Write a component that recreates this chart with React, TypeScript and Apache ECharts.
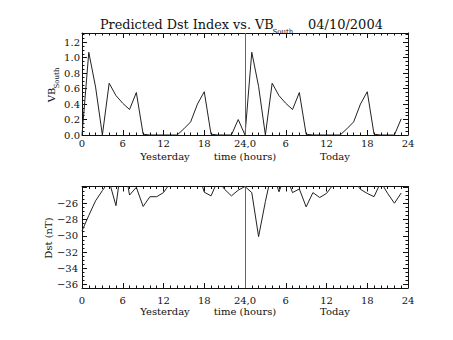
import React, { useEffect, useRef } from 'react';
import * as echarts from 'echarts';

const hours = [
  0, 1, 2, 3, 4, 5, 6, 7, 8, 9, 10, 11, 12, 13, 14, 15, 16, 17, 18, 19, 20, 21, 22, 23,
  24, 25, 26, 27, 28, 29, 30, 31, 32, 33, 34, 35, 36, 37, 38, 39, 40, 41, 42, 43, 44, 45, 46, 47,
];

const vbSouth = [
  0, 1.07, 0.62, 0, 0.67, 0.51, 0.41, 0.33, 0.55, 0.01, 0, 0, 0, 0, 0, 0.08, 0.17, 0.4, 0.56, 0.01, 0, 0, 0, 0.2,
  0, 1.07, 0.63, 0, 0.67, 0.51, 0.41, 0.33, 0.55, 0.01, 0, 0, 0, 0, 0, 0.08, 0.17, 0.4, 0.56, 0.01, 0, 0, 0, 0.21,
];

const dst = [
  -29.4, -27.5, -25.7, -24.45, -23.3, -26.3, -20.2, -25.0, -24.05, -26.4, -25.2, -25.2, -24.7, -23.5, -22.8, -22.8,
  -23.0, -22.0, -24.65, -25.1, -23.2, -24.3, -25.1, -24.4,
  -23.95, -24.7, -30.1, -25.8, -22.0, -24.6, -22.5, -24.7, -24.25, -26.45, -24.7, -25.3, -24.8, -23.7, -23.0, -23.0,
  -23.2, -24.3, -24.8, -25.2, -23.4, -24.8, -26.0, -24.75,
];

const xTicks = [0, 6, 12, 18, 24, 30, 36, 42, 48];
const xTickLabels = ['0', '6', '12', '18', '24,0', '6', '12', '18', '24'];
const vbTicks = [0, 0.2, 0.4, 0.6, 0.8, 1.0, 1.2];
const dstTicks = [-36, -34, -32, -30, -28, -26];

const FONT = 'DejaVu Serif';
const INK = '#111';

function xAxis(gridIndex: number, position: 'top' | 'bottom', show: boolean, margin: number) {
  return {
    type: 'value',
    gridIndex,
    position,
    min: 0,
    max: 48,
    interval: 6,
    axisLine: { show: true, onZero: false, lineStyle: { color: INK, width: 1 } },
    axisTick: { show: true, inside: true, length: 5, lineStyle: { color: INK, width: 1 } },
    minorTick: { show: true, splitNumber: 6, length: 2.5, lineStyle: { color: INK, width: 1 } },
    splitLine: { show: false },
    axisLabel: {
      show,
      color: INK,
      fontFamily: FONT,
      fontSize: 10,
      margin,
      formatter: (v: number) => {
        const i = xTicks.indexOf(v);
        return i >= 0 ? xTickLabels[i] : '';
      },
    },
  };
}

function yAxis(gridIndex: number, position: 'left' | 'right', show: boolean, min: number, max: number, fmt: (v: number) => string, extra: any, margin: number) {
  return {
    type: 'value',
    gridIndex,
    position,
    min,
    max,
    ...extra,
    axisLine: { show: true, onZero: false, lineStyle: { color: INK, width: 1 } },
    axisTick: { show: true, inside: true, length: 5, lineStyle: { color: INK, width: 1 } },
    minorTick: { show: true, splitNumber: 4, length: 2.5, lineStyle: { color: INK, width: 1 } },
    splitLine: { show: false },
    axisLabel: {
      show,
      color: INK,
      fontFamily: FONT,
      fontSize: 10,
      margin,
      formatter: fmt,
    },
  };
}

const vbFmt = (v: number) => (vbTicks.some((t) => Math.abs(t - v) < 1e-6) ? v.toFixed(1) : '');
const dstFmt = (v: number) => (dstTicks.some((t) => Math.abs(t - v) < 1e-6) ? '\u2212' + String(Math.abs(v)) : '');

export default function App() {
  const ref = useRef<HTMLDivElement>(null);
  useEffect(() => {
    if (!ref.current) return;
    const chart = echarts.init(ref.current, null, { renderer: 'svg' });
    const vLine = {
      silent: true,
      symbol: ['none', 'none'],
      label: { show: false },
      lineStyle: { color: '#666', width: 1, type: 'solid' },
      data: [{ xAxis: 24 }],
    };
    const txt = (x: number, y: number, text: string, size: number, extra: any = {}) => ({
      type: 'text',
      x,
      y,
      ...extra,
      style: { text, font: `${size}px "${FONT}"`, fill: INK, align: extra.align || 'center', verticalAlign: 'middle' },
    });
    chart.setOption({
      animation: false,
      backgroundColor: '#fff',
      grid: [
        { left: 82, top: 33, width: 326, height: 102 },
        { left: 82, top: 186.5, width: 326, height: 101.5 },
      ],
      xAxis: [
        xAxis(0, 'bottom', true, 3),
        xAxis(0, 'top', false, 3),
        xAxis(1, 'bottom', true, 7),
        xAxis(1, 'top', false, 7),
      ],
      yAxis: [
        yAxis(0, 'left', true, 0, 1.32, vbFmt, { interval: 0.2 }, 2),
        yAxis(0, 'right', false, 0, 1.32, vbFmt, { interval: 0.2 }, 2),
        yAxis(1, 'left', true, -36.4, -23.95, dstFmt, { splitNumber: 6 }, 4),
        yAxis(1, 'right', false, -36.4, -23.95, dstFmt, { splitNumber: 6 }, 4),
      ],
      series: [
        {
          type: 'line',
          xAxisIndex: 0,
          yAxisIndex: 0,
          data: hours.map((h, i) => [h, vbSouth[i]]),
          showSymbol: false,
          symbol: 'none',
          clip: true,
          lineStyle: { color: '#222', width: 1 },
          markLine: vLine,
        },
        {
          type: 'line',
          xAxisIndex: 2,
          yAxisIndex: 2,
          data: hours.map((h, i) => [h, dst[i]]),
          showSymbol: false,
          symbol: 'none',
          clip: true,
          lineStyle: { color: '#222', width: 1 },
          markLine: vLine,
        },
      ],
      graphic: [
        txt(100, 24.5, 'Predicted Dst Index vs. VB', 12.8, { align: 'left' }),
        txt(272.5, 31.5, 'South', 7, { align: 'left' }),
        txt(308, 24.5, '04/10/2004', 13, { align: 'left' }),
        txt(51, 95, 'VB', 10, { rotation: Math.PI / 2 }),
        txt(57, 78, 'South', 7, { rotation: Math.PI / 2 }),
        txt(48, 238, 'Dst (nT)', 10, { rotation: Math.PI / 2 }),
        txt(165, 156, 'Yesterday', 10),
        txt(245, 156, 'time (hours)', 10),
        txt(335, 156, 'Today', 10),
        txt(165, 311, 'Yesterday', 10),
        txt(245, 311, 'time (hours)', 10),
        txt(335, 311, 'Today', 10),
      ],
    });
    return () => chart.dispose();
  }, []);
  return <div ref={ref} style={{ width: 453, height: 340, position: 'absolute', left: 0, top: 0 }} />;
}
